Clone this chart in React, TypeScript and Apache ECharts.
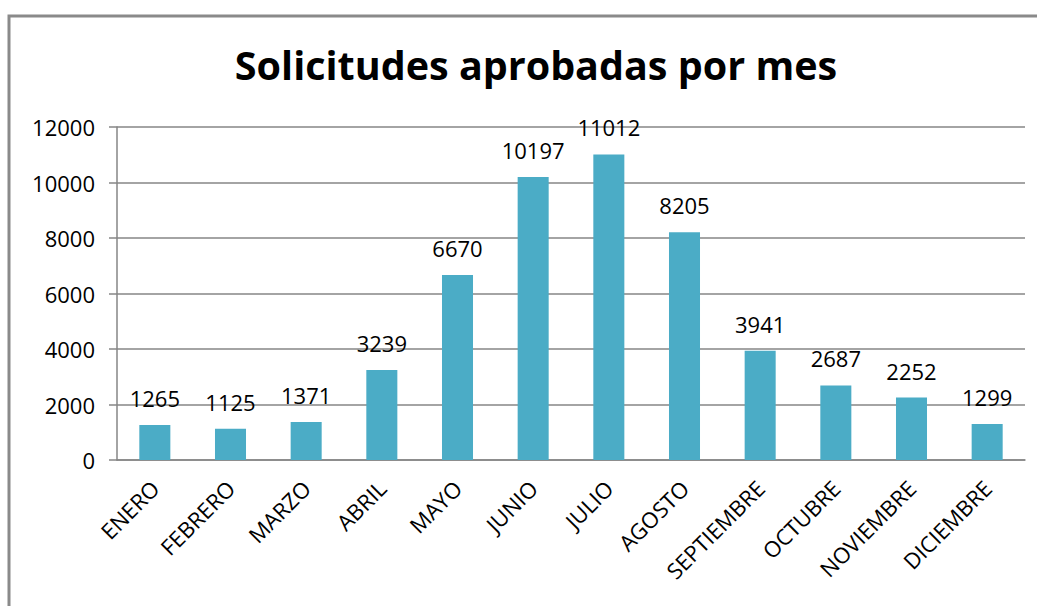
import React, { useEffect, useRef } from "react";
import * as echarts from "echarts";

const categories = ["ENERO", "FEBRERO", "MARZO", "ABRIL", "MAYO", "JUNIO", "JULIO", "AGOSTO", "SEPTIEMBRE", "OCTUBRE", "NOVIEMBRE", "DICIEMBRE"];
const values = [1265, 1125, 1371, 3239, 6670, 10197, 11012, 8205, 3941, 2687, 2252, 1299];
const titleText = "Solicitudes aprobadas por mes";

export default function App() {
  const ref = useRef<HTMLDivElement>(null);
  useEffect(() => {
    const chart = echarts.init(ref.current!, null, { renderer: "svg" });
    const font = "Open Sans, Noto Sans, sans-serif";
    chart.setOption({
      animation: false,
      backgroundColor: "#ffffff",
      title: {
        text: titleText,
        left: 531,
        textAlign: "center",
        top: 40,
        textStyle: { fontFamily: font, fontSize: 39.5, fontWeight: "bold", color: "#000" },
      },
      graphic: [
        {
          type: "rect",
          shape: { x: 9, y: 16, width: 1100, height: 700 },
          style: { fill: "none", stroke: "#8a8a8a", lineWidth: 3 },
          silent: true,
        },
      ],
      grid: { left: 117, right: 12, top: 127, bottom: 146 },
      xAxis: {
        type: "category",
        data: categories,
        axisLine: { lineStyle: { color: "#868686", width: 1.5 } },
        axisTick: { show: false },
        axisLabel: { rotate: 45, fontFamily: font, fontSize: 22, color: "#000", margin: 24, interval: 0 },
      },
      yAxis: {
        type: "value",
        min: 0,
        max: 12000,
        interval: 2000,
        axisLine: { show: true, lineStyle: { color: "#868686", width: 1.5 } },
        axisTick: { show: true, length: 8, lineStyle: { color: "#868686", width: 1.5 } },
        splitLine: { lineStyle: { color: "#868686", width: 1.5 } },
        axisLabel: { fontFamily: font, fontSize: 22, color: "#000", margin: 22, formatter: (v: number) => String(v) },
      },
      series: [
        {
          type: "bar",
          data: values,
          barWidth: "41%",
          itemStyle: { color: "#4BACC6" },
          label: { show: true, position: "top", distance: 16, fontFamily: font, fontSize: 22, color: "#000" },
        },
      ],
    });
    return () => chart.dispose();
  }, []);
  return <div ref={ref} style={{ position: "absolute", left: 0, top: 0, width: 1037, height: 606 }} />;
}
